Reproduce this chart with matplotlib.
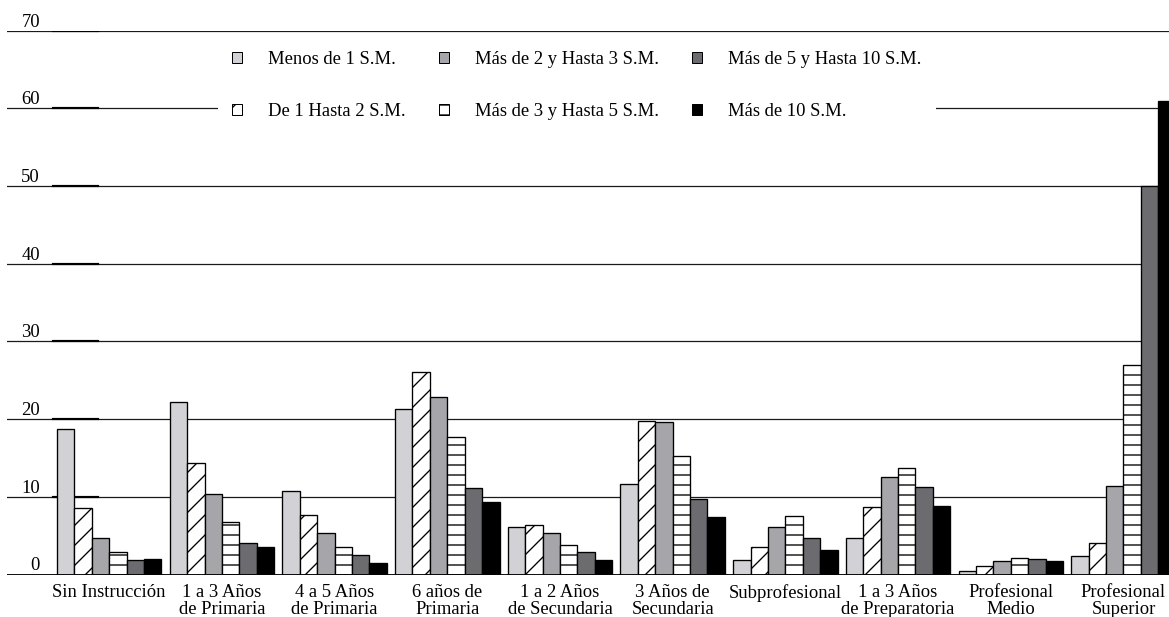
# -*- coding: utf-8 -*-
# grouped bars: population by schooling level and salary range (S.M.)
import numpy as np
import matplotlib
matplotlib.use('Agg')
import matplotlib.pyplot as plt

plt.rcParams['font.family'] = ['Liberation Serif', 'DejaVu Serif']
plt.rcParams['hatch.linewidth'] = 0.8

# categories (x axis)
niveles = ['Sin Instrucción', '1 a 3 Años\nde Primaria', '4 a 5 Años\nde Primaria',
           '6 años de\nPrimaria', '1 a 2 Años\nde Secundaria', '3 Años de\nSecundaria',
           'Subprofesional', '1 a 3 Años\nde Preparatoria', 'Profesional\nMedio',
           'Profesional\nSuperior']

# series
series = ['Menos de 1 S.M.', 'De 1 Hasta 2 S.M.', 'Más de 2 y Hasta 3 S.M.',
          'Más de 3 y Hasta 5 S.M.', 'Más de 5 y Hasta 10 S.M.', 'Más de 10 S.M.']

menos_1 = [18.7, 22.2, 10.7, 21.3, 6.1, 11.6, 1.9, 4.7, 0.4, 2.4]
de_1_a_2 = [8.5, 14.4, 7.6, 26.1, 6.4, 19.7, 3.6, 8.7, 1.1, 4.0]
de_2_a_3 = [4.7, 10.3, 5.3, 22.8, 5.4, 19.6, 6.1, 12.6, 1.7, 11.4]
de_3_a_5 = [2.9, 6.8, 3.5, 17.7, 3.8, 15.2, 7.5, 13.7, 2.1, 27.0]
de_5_a_10 = [1.9, 4.1, 2.5, 11.1, 2.9, 9.7, 4.7, 11.2, 2.0, 50.0]
mas_10 = [2.0, 3.5, 1.5, 9.3, 1.9, 7.4, 3.2, 8.8, 1.7, 61.0]

yticks = [0, 10, 20, 30, 40, 50, 60, 70]

valores = [menos_1, de_1_a_2, de_2_a_3, de_3_a_5, de_5_a_10, mas_10]
colores = ['#d2d2d6', 'white', '#a5a5aa', 'white', '#6b6b70', 'black']
tramas = [None, '//', None, '--', None, None]

W, H = 1169, 617
fig = plt.figure(figsize=(W / 120, H / 120), dpi=120)
ax = fig.add_axes([7 / W, 1 - 574.5 / H, 1 - 7 / W, (574.5 - 30.7) / H])

x = np.arange(len(niveles))
w = 0.1544
for k in range(6):
    ax.bar(x + (k - 2.5) * w, valores[k], width=w, color=colores[k], hatch=tramas[k],
           edgecolor='black', linewidth=0.8, label=series[k], zorder=3)

# grid lines
for v in yticks[1:]:
    ax.axhline(v, color='#1a1a1a', lw=0.75, zorder=1)
    ax.axhline(v, xmin=46 / 1162, xmax=91 / 1162, color='black', lw=1.3, zorder=1)
ax.axhline(0, color='black', lw=1.7, zorder=4)

ax.set_xlim(-0.907, 9.404)
ax.set_ylim(0, 70)
for s in ax.spines.values():
    s.set_visible(False)

ax.set_yticks(yticks)
ax.set_yticklabels([str(v) for v in yticks])
ax.tick_params(axis='y', length=0, pad=-19.8, labelsize=11.2)
for lbl in ax.get_yticklabels():
    lbl.set_va('bottom')

ax.set_xticks(x)
ax.set_xticklabels(niveles, linespacing=1.0)
ax.tick_params(axis='x', length=0, pad=5.5, labelsize=11.2)

leg = fig.legend(loc='upper left', bbox_to_anchor=(218 / W, 1 - 37 / H), ncol=3,
                 frameon=True, fancybox=False, edgecolor='none', facecolor='white',
                 framealpha=1, fontsize=11.2, handlelength=0.55, handleheight=0.55,
                 handletextpad=1.4, columnspacing=1.75, labelspacing=1.9,
                 borderpad=0.75, borderaxespad=0)
for p in leg.get_patches():
    p.set_linewidth(0.6)

fig.savefig('out.png', dpi=120)
